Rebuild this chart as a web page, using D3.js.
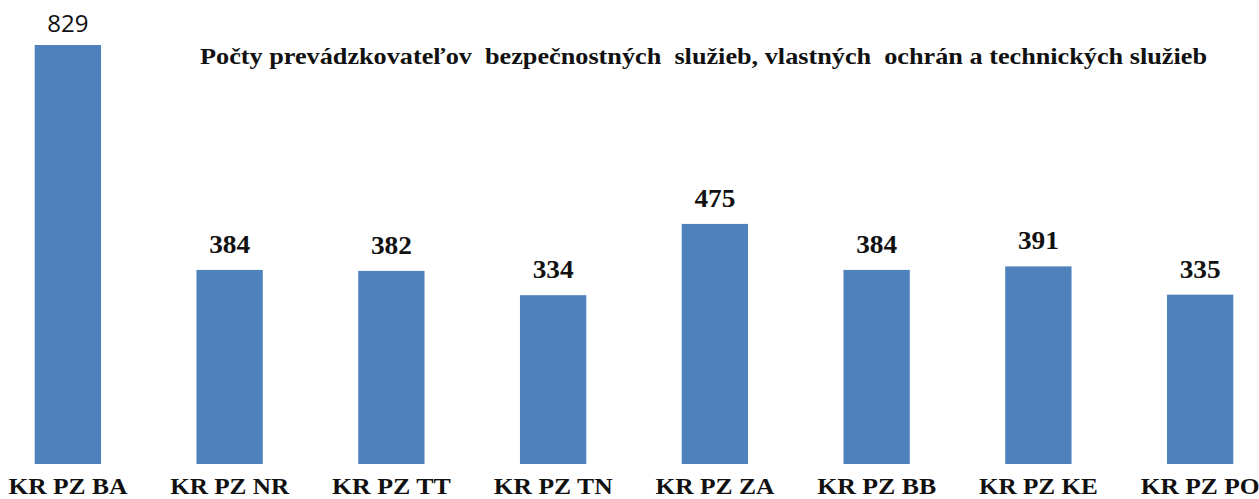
<!DOCTYPE html>
<html>
<head>
<meta charset="utf-8">
<script src="https://cdn.jsdelivr.net/npm/d3@7"></script>
<style>
  body { margin: 0; background: #fff; }
  svg { display: block; }
</style>
</head>
<body>
<div id="graphicContainer"></div>
<script>
var categories = ["KR PZ BA", "KR PZ NR", "KR PZ TT", "KR PZ TN", "KR PZ ZA", "KR PZ BB", "KR PZ KE", "KR PZ PO"]
var values = [829, 384, 382, 334, 475, 384, 391, 335]
var title = "Počty prevádzkovateľov  bezpečnostných  služieb, vlastných  ochrán a technických služieb"

var width = 1259
var height = 499
var color = "#4f81bd"

var svg = d3.select("#graphicContainer")
  .append("svg")
  .attr("width", width)
  .attr("height", height)

var x = d3.scaleBand()
  .domain(categories)
  .range([-13, 1281])
  .paddingInner(0.59)
  .paddingOuter(0.295)

var y = d3.scaleLinear()
  .domain([0, 829])
  .range([464, 45])

svg.selectAll("rect.bar")
  .data(values)
  .join("rect")
  .attr("class", "bar")
  .attr("x", function (d, i) { return x(categories[i]) })
  .attr("y", function (d) { return y(d) })
  .attr("width", x.bandwidth())
  .attr("height", function (d) { return y(0) - y(d) })
  .attr("fill", color)

// value labels - the first one is in a different font in the original
var vals = svg.selectAll("text.val")
  .data(values)
  .join("text")
  .attr("class", "val")
  .attr("x", function (d, i) { return x(categories[i]) + x.bandwidth() / 2 })
  .attr("y", function (d, i) { return y(d) - (i === 0 ? 13 : 17) })
  .attr("text-anchor", "middle")
  .style("font-family", function (d, i) { return i === 0 ? "'Open Sans', sans-serif" : "'Liberation Serif', serif" })
  .style("font-weight", function (d, i) { return i === 0 ? "normal" : "bold" })
  .style("font-size", function (d, i) { return i === 0 ? "24px" : "25px" })
  .attr("fill", "#111")
  .text(function (d) { return d })

vals.filter(function (d, i) { return i > 0 })
  .attr("textLength", 41)
  .attr("lengthAdjust", "spacingAndGlyphs")

svg.selectAll("text.cat")
  .data(categories)
  .join("text")
  .attr("class", "cat")
  .attr("x", function (d) { return x(d) + x.bandwidth() / 2 })
  .attr("y", 494)
  .attr("text-anchor", "middle")
  .attr("textLength", 119)
  .attr("lengthAdjust", "spacingAndGlyphs")
  .style("font-family", "'Liberation Serif', serif")
  .style("font-weight", "bold")
  .style("font-size", "23px")
  .attr("fill", "#111")
  .text(function (d) { return d })

svg.append("text")
  .attr("x", 200)
  .attr("y", 64)
  .attr("textLength", 1007)
  .attr("lengthAdjust", "spacingAndGlyphs")
  .style("font-family", "'Liberation Serif', serif")
  .style("font-weight", "bold")
  .style("font-size", "23px")
  .style("white-space", "pre")
  .attr("fill", "#111")
  .text(title)
</script>
</body>
</html>
